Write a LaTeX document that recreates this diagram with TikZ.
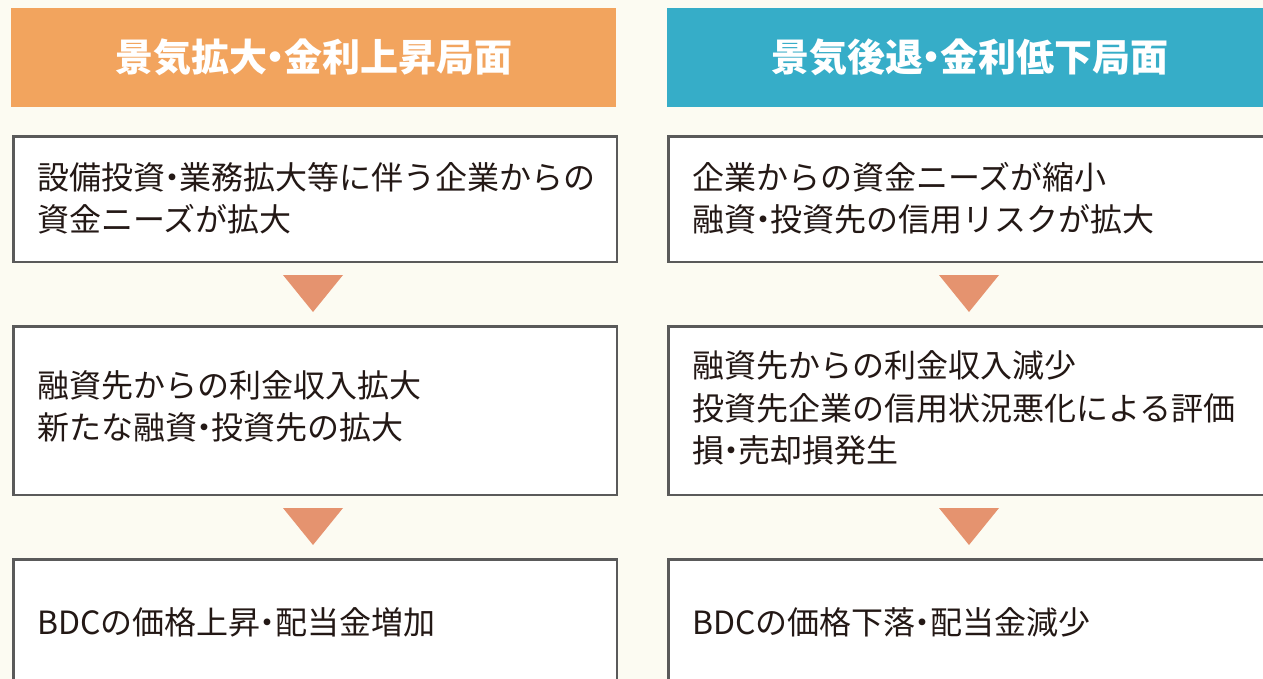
\documentclass[tikz,border=0pt]{standalone}
\usepackage{fontspec}
\newfontfamily\cjk{Noto Sans CJK JP}
\newcommand{\dt}{\hbox to 0.45em{\hss・\hss}}
\definecolor{bgc}{HTML}{FCFBF2}
\definecolor{orangeh}{HTML}{F2A45E}
\definecolor{blueh}{HTML}{36ADC8}
\definecolor{trif}{HTML}{E5936F}
\definecolor{bordc}{HTML}{5A5A5A}
\definecolor{txtc}{HTML}{231815}
\tikzset{
  header/.style={inner sep=0pt, minimum width=605pt, minimum height=99pt, anchor=north west, text=white, font=\cjk\bfseries\fontsize{38}{43}\selectfont},
  box/.style={draw=bordc, line width=2.6pt, fill=white, inner sep=0pt, anchor=north west},
  body/.style={anchor=west, inner sep=0pt, align=left, text=txtc, font=\cjk\fontsize{32}{42.5}\selectfont},
  tri/.style={fill=trif}
}
\begin{document}
\begin{tikzpicture}[x=1pt,y=-1pt]
\path[use as bounding box] (0,0) rectangle (1263,679);
\clip (0,0) rectangle (1263,679);
\fill[bgc] (0,0) rectangle (1263,679);
% headers
\node[header, fill=orangeh] (h1) at (11,8) {景気拡大\dt 金利上昇局面};
\node[header, fill=blueh] (h2) at (667,8) {景気後退\dt 金利低下局面};
% left boxes
\node[box, minimum width=603.4pt, minimum height=125.4pt] (l1) at (12.3,135.3) {};
\node[box, minimum width=603.4pt, minimum height=168.4pt] (l2) at (12.3,325.3) {};
\node[box, minimum width=603.4pt, minimum height=160pt] (l3) at (12.3,558.3) {};
% right boxes
\node[box, minimum width=604pt, minimum height=125.4pt] (r1) at (667.3,135.3) {};
\node[box, minimum width=604pt, minimum height=168.4pt] (r2) at (667.3,325.3) {};
\node[box, minimum width=604pt, minimum height=160pt] (r3) at (667.3,558.3) {};
% texts
\node[body] (tl1) at (37,198.5) {設備投資\dt 業務拡大等に伴う企業からの\\資金ニーズが拡大};
\node[body] (tl2) at (37,406.5) {融資先からの利金収入拡大\\新たな融資\dt 投資先の拡大};
\node[body] (tl3) at (37,622) {BDCの価格上昇\dt 配当金増加};
\node[body] (tr1) at (692,198.5) {企業からの資金ニーズが縮小\\融資\dt 投資先の信用リスクが拡大};
\node[body] (tr2) at (692,408) {融資先からの利金収入減少\\投資先企業の信用状況悪化による評価\\損\dt 売却損発生};
\node[body] (tr3) at (692,622) {BDCの価格下落\dt 配当金減少};
% triangles
\fill[tri] (283,275) -- (343,275) -- (313,312) -- cycle;
\fill[tri] (283,508) -- (343,508) -- (313,545) -- cycle;
\fill[tri] (939,275) -- (999,275) -- (969,312) -- cycle;
\fill[tri] (939,508) -- (999,508) -- (969,545) -- cycle;
\end{tikzpicture}
\end{document}
